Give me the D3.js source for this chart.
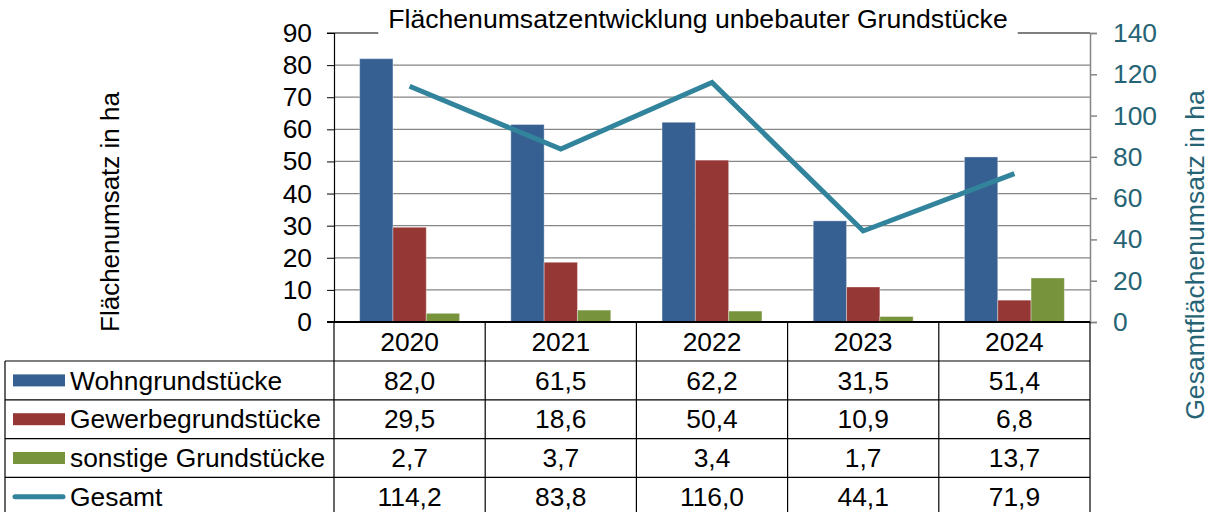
<!DOCTYPE html>
<html><head><meta charset="utf-8">
<script src="https://cdn.jsdelivr.net/npm/d3@7"></script>
<style>
html,body{margin:0;padding:0;background:#fff;}
svg{display:block;font-family:"Liberation Sans",Arial,sans-serif;}
</style></head>
<body>
<svg id="chart" width="1216" height="512"></svg>
<script>
const years = ["2020","2021","2022","2023","2024"];
const wohn = [82.0, 61.5, 62.2, 31.5, 51.4];
const gewerbe = [29.5, 18.6, 50.4, 10.9, 6.8];
const sonstige = [2.7, 3.7, 3.4, 1.7, 13.7];
const gesamt = [114.2, 83.8, 116.0, 44.1, 71.9];
const seriesNames = ["Wohngrundstücke","Gewerbegrundstücke","sonstige Grundstücke","Gesamt"];
const leftTicks = [0,10,20,30,40,50,60,70,80,90];
const rightTicks = [0,20,40,60,80,100,120,140];
const title = "Flächenumsatzentwicklung unbebauter Grundstücke";
const leftTitle = "Flächenumsatz in ha";
const rightTitle = "Gesamtflächenumsatz in ha";

const colors = ["#376092","#953735","#77933C","#31849B"];
const barSeries = [wohn, gewerbe, sonstige];

const svg = d3.select("#chart");
const X0 = 334, X1 = 1090, YT = 33, YZ = 322;
const FS = 26.4;

const x = d3.scaleBand().domain(years).range([X0, X1]).padding(0);
const xs = d3.scaleBand().domain([0,1,2]).range([0, x.bandwidth()]).paddingInner(0).paddingOuter(0.77);
const yL = d3.scaleLinear().domain([0,90]).range([YZ, YT]);
const yR = d3.scaleLinear().domain([0,140]).range([YZ, YT]);

// gridlines
svg.append("g").selectAll("line").data(leftTicks.filter(t => t>0 && t<90)).join("line")
  .attr("x1", X0).attr("x2", X1).attr("y1", d=>yL(d)).attr("y2", d=>yL(d))
  .attr("stroke","#868686").attr("stroke-width",1.2);

// top border
svg.append("line").attr("x1", X0-7).attr("x2", X1).attr("y1", YT).attr("y2", YT)
  .attr("stroke","#000").attr("stroke-width",1.2);

// bars
barSeries.forEach((vals, si) => {
  svg.append("g").selectAll("rect").data(years).join("rect")
    .attr("x", (d)=> x(d) + xs(si))
    .attr("width", xs.bandwidth())
    .attr("y", (d,i)=> yL(vals[i]))
    .attr("height", (d,i)=> YZ - yL(vals[i]))
    .attr("fill", colors[si])
    .attr("stroke", "#fff").attr("stroke-opacity", 0.35).attr("stroke-width", 1);
});

// line
const line = d3.line().x((d,i)=> x(years[i]) + x.bandwidth()/2).y(d=> yR(d));
svg.append("path").datum(gesamt).attr("d", line)
  .attr("fill","none").attr("stroke", colors[3]).attr("stroke-width", 5)
  .attr("stroke-linejoin","miter");

// left axis
const axL = svg.append("g").attr("transform", `translate(${X0},0)`)
  .call(d3.axisLeft(yL).tickValues(leftTicks).tickSize(7).tickPadding(15).tickFormat(d3.format("d")));
axL.select(".domain").attr("stroke","#000").attr("stroke-width",1.2);
axL.selectAll(".tick line").attr("stroke","#000");
axL.selectAll("text").attr("font-size", FS).attr("fill","#000").attr("font-family","Liberation Sans, Arial, sans-serif");

// right axis
const axR = svg.append("g").attr("transform", `translate(${X1},0)`)
  .call(d3.axisRight(yR).tickValues(rightTicks).tickSize(7).tickPadding(16).tickFormat(d3.format("d")));
axR.select(".domain").attr("stroke","#868686").attr("stroke-width",1.5);
axR.selectAll(".tick line").attr("stroke","#868686").attr("stroke-width",1.5);
axR.selectAll("text").attr("font-size", FS).attr("fill","#266374").attr("font-family","Liberation Sans, Arial, sans-serif");

// zero line
svg.append("line").attr("x1", X0-7).attr("x2", X1).attr("y1", YZ).attr("y2", YZ)
  .attr("stroke","#000").attr("stroke-width",2);

// title
const titleG = svg.append("g");
const titleBg = titleG.append("rect").attr("fill","#fff");
const tt = titleG.append("text").attr("x", 698).attr("y", 28).attr("text-anchor","middle")
  .attr("font-size", 26.6).attr("fill","#000").text(title);
const bb = tt.node().getBBox();
titleBg.attr("x", bb.x-10).attr("y", YT-4).attr("width", bb.width+20).attr("height", 8);

// axis titles
svg.append("text").attr("transform","translate(110,212) rotate(-90)").attr("text-anchor","middle")
  .attr("dy","0.35em").attr("font-size", 26).attr("fill","#000").text(leftTitle);
svg.append("text").attr("transform","translate(1195,255) rotate(-90)").attr("text-anchor","middle")
  .attr("dy","0.35em").attr("font-size", 26.6).attr("fill","#266374").text(rightTitle);

// data table
const locale = d3.formatLocale({decimal: ",", thousands: ".", grouping: [3], currency: ["","€"]});
const fmt = locale.format(".1f");
const TL = 5;
const rowH = 38.8;
const hdrBottom = 361;
const rowY = d3.range(5).map(i => hdrBottom + i*rowH);
const tbl = svg.append("g");
tbl.selectAll("text.hdr").data(years).join("text").attr("class","hdr")
  .attr("x", d=> x(d)+x.bandwidth()/2).attr("y", (YZ+hdrBottom)/2).attr("dy","0.35em")
  .attr("text-anchor","middle").attr("font-size", FS).attr("fill","#000").text(d=>d);
tbl.selectAll("line.h").data(rowY).join("line").attr("class","h")
  .attr("x1", TL).attr("x2", X1).attr("y1", d=>d).attr("y2", d=>d)
  .attr("stroke","#000").attr("stroke-width",1.2);
const vx = years.map(d=>x(d)).concat([X1]);
tbl.selectAll("line.v").data(vx).join("line").attr("class","v")
  .attr("x1", d=>d).attr("x2", d=>d).attr("y1", YZ).attr("y2", 520)
  .attr("stroke","#000").attr("stroke-width",1.2);
tbl.append("line").attr("x1", TL).attr("x2", TL).attr("y1", hdrBottom).attr("y2", 520)
  .attr("stroke","#000").attr("stroke-width",1.2);

const allSeries = [wohn, gewerbe, sonstige, gesamt];
allSeries.forEach((vals, si) => {
  const cy = rowY[si] + rowH/2;
  if (si < 3) {
    tbl.append("rect").attr("x", 13).attr("y", cy-6).attr("width", 52).attr("height", 12).attr("fill", colors[si]);
  } else {
    tbl.append("line").attr("x1", 15).attr("x2", 63).attr("y1", cy).attr("y2", cy)
      .attr("stroke", colors[si]).attr("stroke-width", 5).attr("stroke-linecap","round");
  }
  tbl.append("text").attr("x", 70).attr("y", cy).attr("dy","0.35em").attr("font-size", FS)
    .attr("fill","#000").text(seriesNames[si]);
  tbl.selectAll(null).data(vals).join("text")
    .attr("x", (d,i)=> x(years[i]) + x.bandwidth()/2).attr("y", cy).attr("dy","0.35em")
    .attr("text-anchor","middle").attr("font-size", FS).attr("fill","#000").text(d=>fmt(d));
});
</script>
</body></html>
